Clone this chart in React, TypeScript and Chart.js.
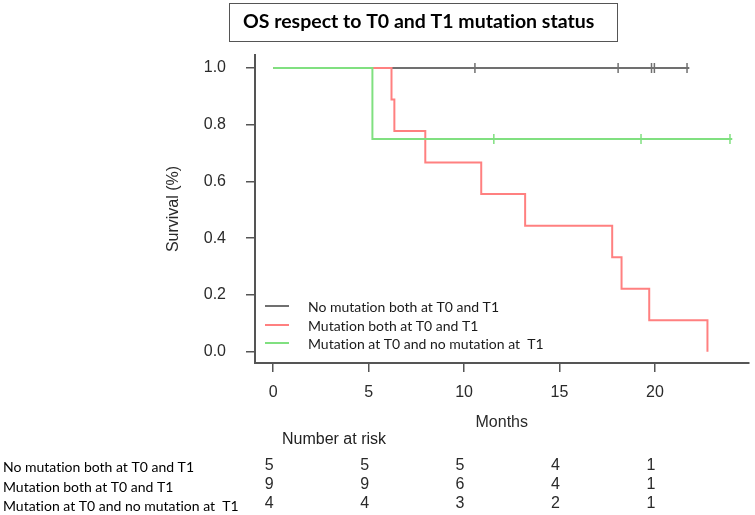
import { useEffect, useRef } from 'react';
import { Chart, registerables } from 'chart.js';

Chart.register(...registerables);

const titleText = 'OS respect to T0 and T1 mutation status';
const seriesLabels = [
  'No mutation both at T0 and T1',
  'Mutation both at T0 and T1',
  'Mutation at T0 and no mutation at  T1',
];
const seriesColors = ['#707070', '#ff8080', '#80e080'];

// Kaplan-Meier step points (time in months, survival fraction)
const noMutTimes = [0, 21.8];
const noMutSurv = [1, 1];
const noMutCensorTimes = [10.57, 18.07, 19.82, 19.97, 21.68];

const bothTimes = [0, 6.2, 6.35, 7.97, 10.9, 13.2, 17.76, 18.25, 19.7, 22.75];
const bothSurv = [1, 0.889, 0.778, 0.667, 0.556, 0.444, 0.333, 0.222, 0.111, 0];

const t0OnlyTimes = [0, 5.2, 24.05];
const t0OnlySurv = [1, 0.75, 0.75];
const t0OnlyCensorTimes = [11.56, 19.27, 23.93];

const xTicks = [0, 5, 10, 15, 20];
const yTicks = [0, 0.2, 0.4, 0.6, 0.8, 1.0];

const riskTimes = [0, 5, 10, 15, 20];
const riskNoMut = [5, 5, 5, 4, 1];
const riskBoth = [9, 9, 6, 4, 1];
const riskT0Only = [4, 4, 3, 2, 1];

const RS = '"Liberation Sans", Arial, sans-serif';
const CAL = 'Lato, "Open Sans", sans-serif';

function toPoints(times: number[], surv: number[]) {
  return times.map((t, i) => ({ x: t, y: surv[i] }));
}
function survAt(times: number[], surv: number[], t: number) {
  let s = surv[0];
  for (let i = 0; i < times.length; i++) if (times[i] <= t) s = surv[i];
  return s;
}

const decorPlugin = {
  id: 'decor',
  afterDraw(chart: any) {
    const ctx = chart.ctx as any;
    const xs = chart.scales.x;
    ctx.save();
    try {
      ctx.textRendering = 'optimizeSpeed';
    } catch (e) {}
    // title box
    ctx.strokeStyle = '#555';
    ctx.lineWidth = 1;
    ctx.strokeRect(229.5, 3.5, 388, 38);
    ctx.fillStyle = '#000';
    ctx.font = `bold 19.5px ${CAL}`;
    ctx.textAlign = 'left';
    ctx.textBaseline = 'middle';
    ctx.fillText(titleText, 243, 22);

    // legend
    const ly = [306, 325, 343];
    ctx.font = `14px ${CAL}`;
    seriesLabels.forEach((lab, i) => {
      ctx.strokeStyle = seriesColors[i];
      ctx.lineWidth = 2;
      ctx.beginPath();
      ctx.moveTo(265, ly[i]);
      ctx.lineTo(289, ly[i]);
      ctx.stroke();
      ctx.fillStyle = '#1a1a1a';
      ctx.fillText(lab, 308, ly[i] + 1);
    });

    // number at risk
    ctx.fillStyle = '#222';
    ctx.font = `16px ${RS}`;
    ctx.fillText('Number at risk', 282, 440);
    const rows = [riskNoMut, riskBoth, riskT0Only];
    const rowY = [466, 485, 504];
    const labY = [467, 487, 506];
    rows.forEach((vals, r) => {
      ctx.fillStyle = '#000';
      ctx.font = `14px ${CAL}`;
      ctx.textAlign = 'left';
      ctx.fillText(seriesLabels[r], 3, labY[r]);
      ctx.fillStyle = '#2a2a2a';
      ctx.font = `16px ${RS}`;
      ctx.textAlign = 'center';
      vals.forEach((v, i) => {
        ctx.fillText(String(v), xs.getPixelForValue(riskTimes[i]) - 4, rowY[r]);
      });
    });
    ctx.restore();
  },
};

export default function App() {
  const ref = useRef<HTMLCanvasElement | null>(null);
  useEffect(() => {
    if (!ref.current) return;
    const censor = (times: number[], st: number[], ct: number[]) =>
      ct.map((t) => ({ x: t, y: survAt(st, times, t) }));
    const chart = new Chart(ref.current, {
      type: 'line',
      data: {
        datasets: [
          {
            type: 'scatter',
            data: censor(noMutSurv, noMutTimes, noMutCensorTimes),
            borderColor: seriesColors[0],
            backgroundColor: seriesColors[0],
            pointStyle: 'line',
            rotation: 90,
            pointRadius: 5,
            borderWidth: 1.5,
            order: 2,
          } as any,
          {
            type: 'scatter',
            data: censor(t0OnlySurv, t0OnlyTimes, t0OnlyCensorTimes),
            borderColor: seriesColors[2],
            backgroundColor: seriesColors[2],
            pointStyle: 'line',
            rotation: 90,
            pointRadius: 5,
            borderWidth: 1.5,
            order: 1,
          } as any,
          {
            label: seriesLabels[0],
            data: toPoints(noMutTimes, noMutSurv),
            borderColor: seriesColors[0],
            borderWidth: 2,
            stepped: true,
            pointRadius: 0,
            fill: false,
            order: 6,
          },
          {
            label: seriesLabels[1],
            data: toPoints(bothTimes, bothSurv),
            borderColor: seriesColors[1],
            borderWidth: 2,
            stepped: true,
            pointRadius: 0,
            fill: false,
            order: 5,
          },
          {
            label: seriesLabels[2],
            data: toPoints(t0OnlyTimes, t0OnlySurv),
            borderColor: seriesColors[2],
            borderWidth: 2,
            stepped: true,
            pointRadius: 0,
            fill: false,
            order: 4,
          },
        ],
      },
      options: {
        responsive: false,
        animation: false,
        events: [],
        layout: { padding: { top: 55, right: 5, left: 0, bottom: 0 } },
        plugins: { legend: { display: false }, tooltip: { enabled: false }, title: { display: false } },
        scales: {
          x: {
            type: 'linear',
            min: -0.95,
            max: 24.9,
            afterBuildTicks: (s: any) => {
              s.ticks = xTicks.map((v) => ({ value: v }));
            },
            afterFit: (s: any) => {
              s.height = 152;
            },
            grid: { display: true, drawOnChartArea: false, drawTicks: true, tickLength: 9, color: '#555', lineWidth: 1.5 },
            border: { display: true, color: '#555', width: 2 },
            ticks: { color: '#2a2a2a', font: { family: RS, size: 16 }, padding: 11, maxRotation: 0 },
            title: { display: true, text: 'Months', color: '#2a2a2a', font: { family: RS, size: 16 }, padding: { top: 0, bottom: 83 } },
          },
          y: {
            type: 'linear',
            min: -0.04,
            max: 1.046,
            afterBuildTicks: (s: any) => {
              s.ticks = yTicks.map((v) => ({ value: v }));
            },
            afterFit: (s: any) => {
              s.width = 255;
            },
            grid: { display: true, drawOnChartArea: false, drawTicks: true, tickLength: 9, color: '#555', lineWidth: 1.5 },
            border: { display: true, color: '#555', width: 2 },
            ticks: { color: '#2a2a2a', font: { family: RS, size: 16 }, padding: 20, callback: (v: any) => Number(v).toFixed(1) },
            title: { display: true, text: 'Survival (%)', color: '#2a2a2a', font: { family: RS, size: 16 }, padding: { top: 164, bottom: 0 } },
          },
        },
      },
      plugins: [decorPlugin],
    } as any);
    return () => chart.destroy();
  }, []);
  return (
    <div style={{ position: 'fixed', left: 0, top: 0, width: 755, height: 515, background: '#fff' }}>
      <canvas ref={ref} width={755} height={515} />
    </div>
  );
}
